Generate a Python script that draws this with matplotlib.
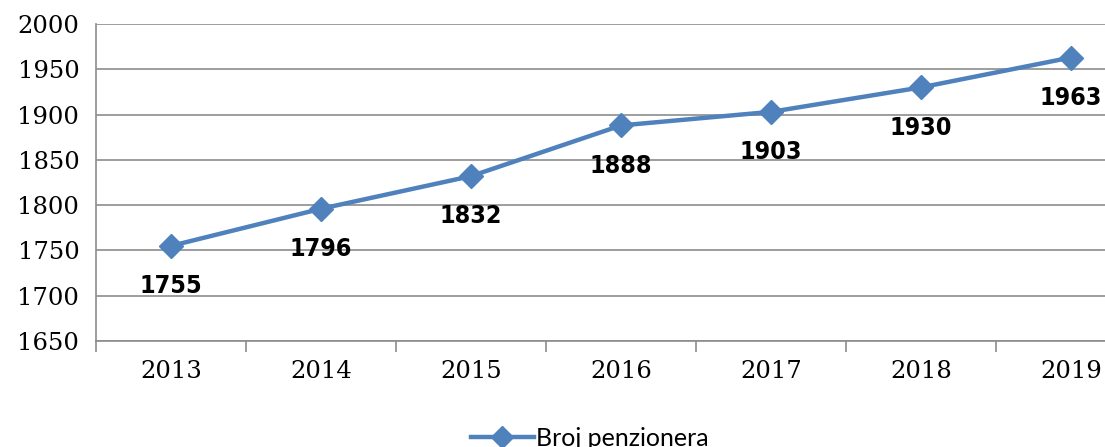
import numpy as np
import matplotlib.pyplot as plt

# podaci
godine = ["2013", "2014", "2015", "2016", "2017", "2018", "2019"]
penzioneri = [1755, 1796, 1832, 1888, 1903, 1930, 1963]

boja = "#4F81BD"
siva = "#8C8C8C"

fig = plt.figure(figsize=(11.05, 4.47), dpi=100)
ax = fig.add_axes([96 / 1105, 1 - 341 / 447, 1050 / 1105, 317 / 447])

x = np.arange(len(godine))
ax.plot(x, penzioneri, color=boja, lw=3.2, marker="D", markersize=12,
        label="Broj penzionera", zorder=3)

for xi, v in zip(x, penzioneri):
    ax.annotate(str(v), (xi, v), xytext=(0, -29), textcoords="offset points",
                ha="center", va="center", fontsize=18, fontweight="bold",
                fontstretch="condensed", family="DejaVu Sans", zorder=4)

ax.set_xlim(-0.5, len(godine) - 0.5)
ax.set_ylim(1650, 2000)
ax.set_yticks(np.arange(1650, 2001, 50))
ax.yaxis.grid(True, color=siva, lw=1.2)
ax.set_axisbelow(True)

ax.set_xticks(x)
ax.set_xticklabels(godine)
ax.set_xticks(np.arange(-0.5, len(godine)), minor=True)
ax.tick_params(axis="x", which="major", length=0, pad=14)
ax.tick_params(axis="x", which="minor", length=8, color=siva, width=1.2)
ax.tick_params(axis="y", length=0, pad=12)
for lab in ax.get_xticklabels() + ax.get_yticklabels():
    lab.set_family("DejaVu Serif")
    lab.set_fontsize(17.5)

for s in ["top", "right"]:
    ax.spines[s].set_visible(False)
for s in ["left", "bottom"]:
    ax.spines[s].set_color(siva)
    ax.spines[s].set_linewidth(1.2)

fig.legend(loc="center", bbox_to_anchor=(590 / 1105, 1 - 438 / 447),
           frameon=False, prop={"family": "Lato", "size": 18},
           handlelength=2.5, handletextpad=0.1, markerscale=0.9)

plt.savefig("out.png", dpi=100)
